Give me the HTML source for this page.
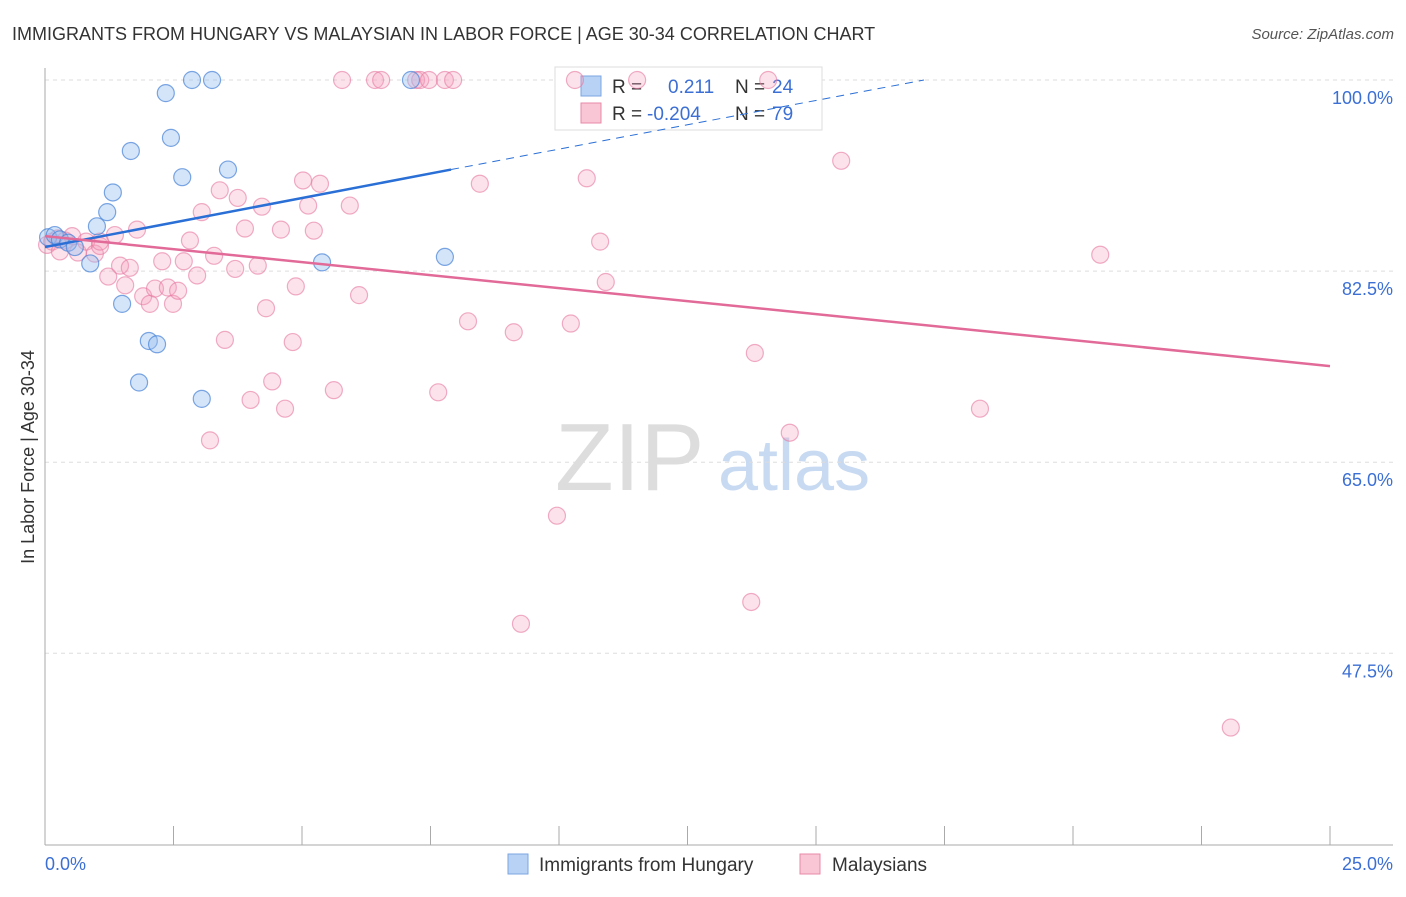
<!DOCTYPE html>
<html><head><meta charset="utf-8"><style>
body{margin:0;background:#fff;font-family:"Liberation Sans",sans-serif;}
svg text{font-family:"Liberation Sans",sans-serif;}
</style></head><body>
<svg id="chart" width="1406" height="892" xmlns="http://www.w3.org/2000/svg">
<text x="12" y="40" font-size="18" fill="#333">IMMIGRANTS FROM HUNGARY VS MALAYSIAN IN LABOR FORCE | AGE 30-34 CORRELATION CHART</text>
<text x="1394" y="39" font-size="15" fill="#555" font-style="italic" text-anchor="end">Source: ZipAtlas.com</text>
<text x="555" y="490" font-size="96" fill="#ddd" font-family="Liberation Serif">ZIP</text>
<text x="718" y="490" font-size="72" fill="#c8daf2">atlas</text>
<g id="grid"></g><g id="axes"></g>
<g>
<rect x="555" y="67" width="267" height="63" fill="#fff" stroke="#ddd"/>
<rect x="581" y="76" width="20" height="20" fill="#b8d2f5" stroke="#7aa5e0"/>
<rect x="581" y="103" width="20" height="20" fill="#f9c6d6" stroke="#e88aa8"/>
<text x="612" y="93" font-size="19" fill="#333">R = </text><text x="668" y="93" font-size="19" fill="#3b6fd4">0.211</text>
<text x="735" y="93" font-size="19" fill="#333">N = </text><text x="772" y="93" font-size="19" fill="#3b6fd4">24</text>
<text x="612" y="120" font-size="19" fill="#333">R = </text><text x="647" y="120" font-size="19" fill="#3b6fd4">-0.204</text>
<text x="735" y="120" font-size="19" fill="#333">N = </text><text x="772" y="120" font-size="19" fill="#3b6fd4">79</text>
</g>
<g id="pts"></g><g id="lines"></g>
<text transform="translate(34,457) rotate(-90)" font-size="18" fill="#333" text-anchor="middle">In Labor Force | Age 30-34</text>
<text x="45" y="870" font-size="18" fill="#3b6fd4">0.0%</text>
<text x="1393" y="870" font-size="18" fill="#3b6fd4" text-anchor="end">25.0%</text>
<g>
<rect x="508" y="854" width="20" height="20" fill="#b8d2f5" stroke="#7aa5e0"/>
<text x="539" y="871" font-size="19" fill="#333">Immigrants from Hungary</text>
<rect x="800" y="854" width="20" height="20" fill="#f9c6d6" stroke="#e88aa8"/>
<text x="832" y="871" font-size="19" fill="#333">Malaysians</text>
</g>
</svg>
<script>
const yTicks=[100,82.5,65,47.5];
const yTickLabels=["100.0%","82.5%","65.0%","47.5%"];
const xTicks=[0,2.5,5,7.5,10,12.5,15,17.5,20,22.5,25];
const hungaryX=[0.06,0.19,0.29,0.45,0.58,0.88,1.01,1.21,1.32,1.5,1.67,1.83,2.02,2.18,2.35,2.45,2.67,2.86,3.05,3.25,3.56,5.39,7.12,7.78];
const hungaryY=[85.6,85.8,85.4,85.1,84.7,83.2,86.6,87.9,89.7,79.5,93.5,72.3,76.1,75.8,98.8,94.7,91.1,100,70.8,100,91.8,83.3,100,83.8];
const malayX=[0.04,0.14,0.25,0.39,0.53,0.64,0.8,0.97,1.07,1.23,1.36,1.46,1.56,1.65,1.79,1.91,2.04,2.14,2.28,2.39,2.49,2.59,2.7,2.82,2.96,3.05,3.21,3.29,3.4,3.5,3.7,3.75,3.89,4.0,4.14,4.22,4.3,4.42,4.59,4.67,4.82,4.88,5.02,5.12,5.23,5.35,5.62,5.78,5.93,6.11,6.42,6.54,7.22,7.30,7.47,7.65,7.78,7.94,8.23,8.46,9.12,9.96,10.23,10.31,10.54,10.8,10.91,11.52,13.81,13.74,14.07,14.49,9.26,15.49,18.19,20.53,23.07,1.07,0.29];
const malayY=[84.9,85.2,85.5,85.3,85.7,84.2,85.2,84.1,84.8,82.0,85.8,83.0,81.2,82.8,86.3,80.2,79.5,80.9,83.4,81.0,79.5,80.7,83.4,85.3,82.1,87.9,67.0,83.9,89.9,76.2,82.7,89.2,86.4,70.7,83.0,88.4,79.1,72.4,86.3,69.9,76.0,81.1,90.8,88.5,86.2,90.5,71.6,100,88.5,80.3,100,100,100,100,100,71.4,100,100,77.9,90.5,76.9,60.1,77.7,100,91.0,85.2,81.5,100,75.0,52.2,100,67.7,50.2,92.6,69.9,84.0,40.7,85.2,84.3];
const trendBlue=[[0,84.7],[7.9,91.8],[17.1,100]];
const trendPink=[[0,85.7],[25,73.8]];
const X=v=>45+v/25*1285, Y=v=>80+(100-v)*10.92;
const NS="http://www.w3.org/2000/svg";
function mk(tag,attrs,parent){const e=document.createElementNS(NS,tag);for(const k in attrs)e.setAttribute(k,attrs[k]);document.getElementById(parent).appendChild(e);return e;}
yTicks.forEach((t,i)=>{
 const l=mk('line',{x1:45,x2:1393,y1:Y(t),y2:Y(t),stroke:'#ddd','stroke-dasharray':'4,4'},'grid');
 
 
 const tx=mk('text',{x:1393,y:Y(t)+24,'font-size':18,fill:'#3b6fd4','text-anchor':'end'},'grid');
 tx.textContent=yTickLabels[i];
 
 
});
const ax=mk('line',{x1:45,x2:1393,y1:845,y2:845,stroke:'#aaa'},'axes');


const ay=mk('line',{x1:45,x2:45,y1:68,y2:845,stroke:'#aaa'},'axes');


xTicks.forEach(t=>{const l=mk('line',{x1:X(t),x2:X(t),y1:826,y2:845,stroke:'#aaa'},'axes');
 
 });
malayX.forEach((v,i)=>{const c=mk('circle',{cx:X(v),cy:Y(malayY[i]),r:8.5,fill:'rgba(245,160,190,0.3)',stroke:'rgba(230,120,160,0.6)','stroke-width':1.2},'pts');
 
 });
hungaryX.forEach((v,i)=>{const c=mk('circle',{cx:X(v),cy:Y(hungaryY[i]),r:8.5,fill:'rgba(150,190,240,0.4)',stroke:'rgba(70,130,215,0.7)','stroke-width':1.2},'pts');
 
 });
const b1=mk('line',{x1:X(trendBlue[0][0]),y1:Y(trendBlue[0][1]),x2:X(trendBlue[1][0]),y2:Y(trendBlue[1][1]),stroke:'#2a6fd6','stroke-width':2.5},'lines');


const b2=mk('line',{x1:X(trendBlue[1][0]),y1:Y(trendBlue[1][1]),x2:X(trendBlue[2][0]),y2:Y(trendBlue[2][1]),stroke:'#2a6fd6','stroke-width':1,'stroke-dasharray':'8,6'},'lines');


const p1=mk('line',{x1:X(trendPink[0][0]),y1:Y(trendPink[0][1]),x2:X(trendPink[1][0]),y2:Y(trendPink[1][1]),stroke:'#e26a98','stroke-width':2.5},'lines');


</script>
</body></html>
